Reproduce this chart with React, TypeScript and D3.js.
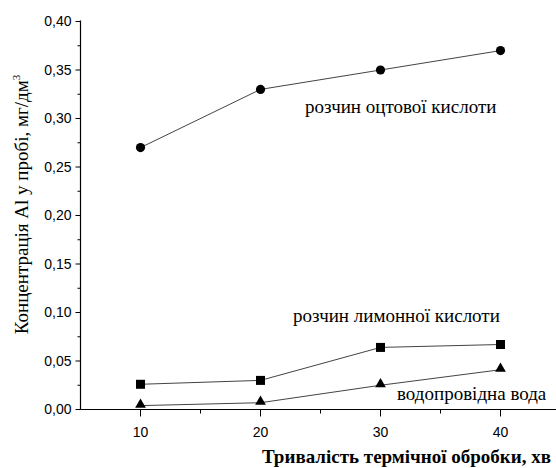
import React from "react";
import * as d3 from "d3";

const minutes = [10, 20, 30, 40];
const aceticAcid = [0.27, 0.33, 0.35, 0.37];
const citricAcid = [0.026, 0.03, 0.064, 0.067];
const tapWater = [0.004, 0.007, 0.025, 0.041];
const yTicks = [0, 0.05, 0.1, 0.15, 0.2, 0.25, 0.3, 0.35, 0.4];
const yMinorTicks = [0.025, 0.075, 0.125, 0.175, 0.225, 0.275, 0.325, 0.375];
const xTicks = [10, 20, 30, 40];
const xMinorTicks = [15, 25, 35];

const W = 556;
const H = 468;
const serif = "'Liberation Serif', 'Times New Roman', serif";
const sans = "'Liberation Sans', Arial, sans-serif";

export default function App() {
  const x = d3.scaleLinear().domain([5, 45]).range([80.5, 560.5]);
  const y = d3.scaleLinear().domain([0, 0.4]).range([409.5, 21.5]);
  const line = d3
    .line<number>()
    .x((_, i) => x(minutes[i]))
    .y((d) => y(d));
  const fmt = (v: number) => v.toFixed(2).replace(".", ",");
  const stroke = "#444";
  const tri = d3.symbol().type(d3.symbolTriangle).size(50)();

  return (
    <svg
      width={W}
      height={H}
      style={{ position: "absolute", left: 0, top: 0, background: "#fff" }}
    >
      <rect width={W} height={H} fill="#fff" />
      {/* axes */}
      <line x1={x(5)} x2={W} y1={y(0)} y2={y(0)} stroke="#000" strokeWidth={1.2} />
      <line x1={x(5)} x2={x(5)} y1={y(0)} y2={y(0.4) - 1} stroke="#000" strokeWidth={1.2} />
      {yTicks.map((t) => (
        <g key={"yt" + t}>
          <line x1={x(5) - 5} x2={x(5)} y1={y(t)} y2={y(t)} stroke="#000" />
          <text
            x={x(5) - 9}
            y={y(t)}
            dy="0.35em"
            textAnchor="end"
            fontFamily={sans}
            fontSize={14}
            fill="#000"
          >
            {fmt(t)}
          </text>
        </g>
      ))}
      {yMinorTicks.map((t) => (
        <line key={"ym" + t} x1={x(5) - 3} x2={x(5)} y1={y(t)} y2={y(t)} stroke="#000" />
      ))}
      {xTicks.map((t) => (
        <g key={"xt" + t}>
          <line x1={x(t)} x2={x(t)} y1={y(0)} y2={y(0) + 7} stroke="#000" />
          <text
            x={x(t)}
            y={y(0) + 27}
            textAnchor="middle"
            fontFamily={sans}
            fontSize={14}
            fill="#000"
          >
            {t}
          </text>
        </g>
      ))}
      {xMinorTicks.map((t) => (
        <line key={"xm" + t} x1={x(t)} x2={x(t)} y1={y(0)} y2={y(0) + 4} stroke="#000" />
      ))}

      {/* series */}
      <path d={line(aceticAcid) || ""} fill="none" stroke={stroke} strokeWidth={1} />
      <path d={line(citricAcid) || ""} fill="none" stroke={stroke} strokeWidth={1} />
      <path d={line(tapWater) || ""} fill="none" stroke={stroke} strokeWidth={1} />
      {aceticAcid.map((v, i) => (
        <circle key={"a" + i} cx={x(minutes[i])} cy={y(v)} r={4.6} fill="#000" />
      ))}
      {citricAcid.map((v, i) => (
        <rect
          key={"c" + i}
          x={x(minutes[i]) - 4.5}
          y={y(v) - 4.5}
          width={9}
          height={9}
          fill="#000"
        />
      ))}
      {tapWater.map((v, i) => (
        <path
          key={"w" + i}
          d={tri || ""}
          transform={`translate(${x(minutes[i])},${y(v) - 1})`}
          fill="#000"
        />
      ))}

      {/* annotations */}
      <text x={305} y={113} fontFamily={serif} fontSize={19} fill="#000">
        розчин оцтової кислоти
      </text>
      <text x={293} y={322} fontFamily={serif} fontSize={19} fill="#000">
        розчин лимонної кислоти
      </text>
      <text x={397} y={400} fontFamily={serif} fontSize={19} fill="#000">
        водопровідна вода
      </text>

      {/* axis titles */}
      <text
        x={551}
        y={463}
        textAnchor="end"
        fontFamily={serif}
        fontSize={19}
        fontWeight="bold"
        fill="#000"
      >
        Тривалість термічної обробки, хв
      </text>
      <text
        transform={`translate(28, ${(337 + 72) / 2}) rotate(-90)`}
        textAnchor="middle"
        fontFamily={serif}
        fontSize={19}
        fill="#000"
      >
        Концентрація Al у пробі, мг/дм
        <tspan fontSize={11} dy={-8}>
          3
        </tspan>
      </text>
    </svg>
  );
}
